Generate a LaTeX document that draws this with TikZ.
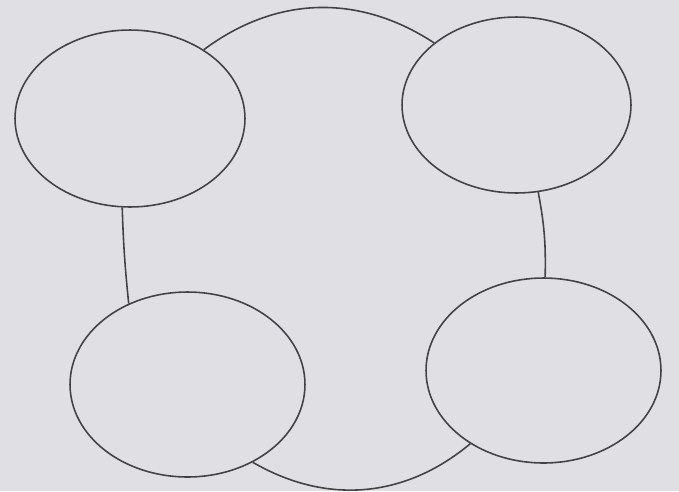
\documentclass[tikz,border=0pt]{standalone}
\usetikzlibrary{shapes.geometric}
\definecolor{papergray}{RGB}{224,223,228}
\definecolor{penline}{RGB}{66,66,72}

\begin{document}
\begin{tikzpicture}[x=0.02cm, y=-0.02cm,
    bubble/.style={ellipse, draw=penline, line width=0.9pt, inner sep=0pt},
    link/.style={draw=penline, line width=0.9pt}
]
\fill[papergray] (0,0) rectangle (679,491);
\useasboundingbox (0,0) rectangle (679,491);
\node[bubble, minimum width=4.6cm, minimum height=3.54cm] (topleft) at (130,118.5) {};
\node[bubble, minimum width=4.58cm, minimum height=3.52cm] (topright) at (516.5,105) {};
\node[bubble, minimum width=4.7cm, minimum height=3.7cm] (bottomleft) at (187.5,384.5) {};
\node[bubble, minimum width=4.7cm, minimum height=3.7cm] (bottomright) at (543.5,370.5) {};
\draw[link] (topleft.43) to[bend left=35] (topright.143);
\draw[link] (topleft.265) to[bend right=2] (bottomleft.126);
\draw[link] (topright.284) to[bend left=6] (bottomright.89);
\draw[link] (bottomleft.310) to[bend right=35] (bottomright.225);
\end{tikzpicture}
\end{document}
